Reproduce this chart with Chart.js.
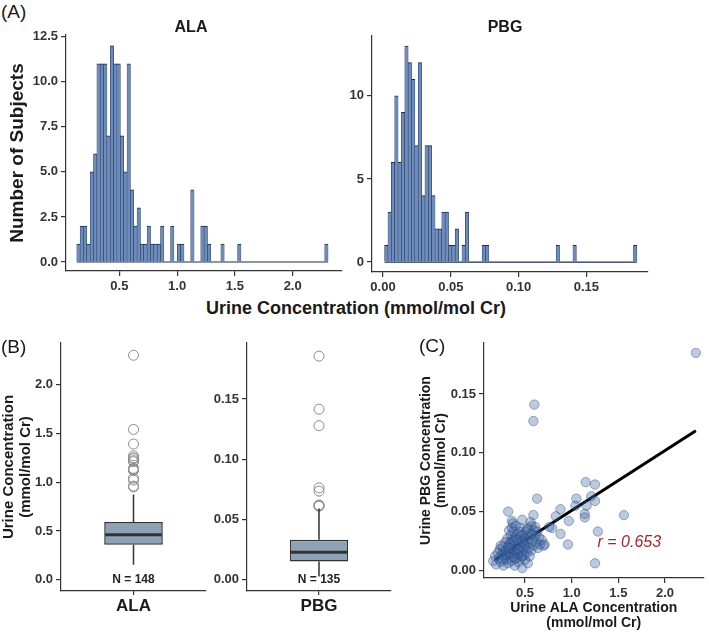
<!DOCTYPE html>
<html>
<head>
<meta charset="utf-8">
<script src="https://cdn.jsdelivr.net/npm/chart.js@4.4.1/dist/chart.umd.min.js"></script>
<style>
body { margin: 0; background: #fff; }
#fig { position: relative; width: 709px; height: 632px; overflow: hidden; font-family: "Liberation Sans", Arial, Helvetica, sans-serif; color: #1a1a1a; }
#fig canvas { position: absolute; }
.lbl { position: absolute; white-space: nowrap; line-height: 1; }
.tag { font-size: 19px; }
.ttl { font-size: 16px; font-weight: bold; transform: translateX(-50%); }
</style>
</head>
<body>
<div id="fig">
  <canvas id="alaHist" width="345" height="273" style="left:0;top:22px"></canvas>
  <canvas id="pbgHist" width="364" height="273" style="left:345px;top:22px"></canvas>
  <canvas id="alaBox" width="212" height="295" style="left:0;top:330px"></canvas>
  <canvas id="pbgBox" width="185" height="295" style="left:212px;top:330px"></canvas>
  <canvas id="scatter" width="312" height="302" style="left:397px;top:330px"></canvas>

  <div class="lbl tag" style="left:1px;top:2px">(A)</div>
  <div class="lbl ttl" style="left:191px;top:19px">ALA</div>
  <div class="lbl ttl" style="left:505px;top:19px">PBG</div>
  <div class="lbl ttl" style="left:356px;top:299px;font-size:18px">Urine Concentration (mmol/mol Cr)</div>
  <div class="lbl tag" style="left:1px;top:337px">(B)</div>
  <div class="lbl tag" style="left:419px;top:336px">(C)</div>
</div>
<script>
// ---- (A) histograms: counts per bin ----
var alaBinStart = 0.1314;
var alaBinWidth = 0.029;
var alaCounts = [1,2,2,1,5,6,11,11,11,7,12,11,11,7,5,11,4,2,3,1,1,2,1,1,1,2,0,0,2,0,
                 1,1,0,0,4,0,0,2,2,1,0,0,0,1,0,0,0,0,1,0,0,0,0,0,0,0,0,0,0,0,
                 0,0,0,0,0,0,0,0,0,0,0,0,0,0,1];
var pbgBinStart = 0.0012;
var pbgBinWidth = 0.00248;
var pbgCounts = [1,3,6,10,6,9,13,12,11,7,12,4,7,7,4,2,2,3,3,1,1,2,0,1,3,0,0,0,0,1,
                 1,0,0,0,0,0,0,0,0,0,0,0,0,0,0,0,0,0,0,0,0,1,0,0,0,0,1,0,0,0,
                 0,0,0,0,0,0,0,0,0,0,0,0,0,0,1];

var alaHistXTicks = [0.5, 1.0, 1.5, 2.0];
var alaHistXLabels = ['0.5', '1.0', '1.5', '2.0'];
var alaHistYTicks = [0, 2.5, 5, 7.5, 10, 12.5];
var alaHistYLabels = ['0.0', '2.5', '5.0', '7.5', '10.0', '12.5'];
var pbgHistXTicks = [0, 0.05, 0.10, 0.15];
var pbgHistXLabels = ['0.00', '0.05', '0.10', '0.15'];
var pbgHistYTicks = [0, 5, 10];
var pbgHistYLabels = ['0', '5', '10'];

// ---- (B) box plots ----
var boxNames = ['ALA', 'PBG'];
var boxN = [148, 135];
var alaBox = { lo: 0.154, q1: 0.358, med: 0.461, q3: 0.592, hi: 0.872 };
var pbgBox = { lo: 0.0027, q1: 0.0151, med: 0.0228, q3: 0.0332, hi: 0.059 };
var alaOutliers = [0.95, 0.96, 1.02, 1.04, 1.12, 1.13, 1.13, 1.14, 1.21, 1.22, 1.24, 1.25, 1.27, 1.39, 1.54, 2.30];
var pbgOutliers = [0.061, 0.0615, 0.062, 0.0735, 0.0762, 0.1278, 0.1415, 0.1855];
var alaBoxTicks = [0, 0.5, 1.0, 1.5, 2.0];
var alaBoxLabels = ['0.0', '0.5', '1.0', '1.5', '2.0'];
var pbgBoxTicks = [0, 0.05, 0.10, 0.15];
var pbgBoxLabels = ['0.00', '0.05', '0.10', '0.15'];

// ---- (C) scatter ----
var scatterAla = [2.33,0.60,0.59,1.15,1.25,1.21,0.63,1.05,1.25,1.16,1.04,0.88,0.32,1.56,0.59,1.14,1.14,0.83,0.97,0.36,
  0.47,1.28,0.79,0.76,0.88,0.71,0.96,1.25,
  0.16,0.18,0.19,0.21,0.22,0.23,0.24,0.25,0.26,0.27,0.27,0.28,0.29,0.30,0.30,0.31,0.31,0.32,0.32,0.33,
  0.33,0.34,0.34,0.35,0.35,0.36,0.36,0.36,0.37,0.37,0.38,0.38,0.39,0.39,0.40,0.40,0.41,0.41,0.42,0.42,
  0.43,0.43,0.44,0.44,0.45,0.45,0.46,0.46,0.47,0.47,0.48,0.48,0.49,0.49,0.50,0.50,0.51,0.51,0.52,0.52,
  0.53,0.53,0.54,0.54,0.55,0.55,0.56,0.57,0.57,0.58,0.59,0.60,0.61,0.62,0.63,0.64,0.65,0.66,0.68,0.70,
  0.37,0.40,0.35,0.44,0.38,0.42,0.46,0.39,0.33,0.29,0.26,0.24,0.43,0.48,0.52,0.58,0.61,0.56,0.47,0.41];
var scatterPbg = [0.185,0.141,0.127,0.075,0.073,0.063,0.061,0.061,0.059,0.055,0.055,0.052,0.050,0.047,0.047,0.048,0.045,0.046,0.042,0.042,
  0.043,0.033,0.036,0.037,0.031,0.022,0.022,0.006,
  0.008,0.012,0.005,0.015,0.010,0.018,0.007,0.013,0.020,0.004,0.016,0.011,0.024,0.009,0.017,0.013,0.027,0.006,0.020,0.015,
  0.034,0.011,0.024,0.018,0.030,0.008,0.014,0.036,0.021,0.026,0.012,0.033,0.017,0.004,0.022,0.028,0.010,0.015,0.019,0.031,
  0.024,0.007,0.013,0.027,0.020,0.036,0.016,0.011,0.025,0.002,0.018,0.030,0.022,0.013,0.027,0.009,0.020,0.033,0.015,0.025,
  0.029,0.006,0.019,0.036,0.023,0.012,0.031,0.017,0.038,0.026,0.021,0.034,0.029,0.024,0.033,0.019,0.028,0.022,0.026,0.021,
  0.040,0.038,0.023,0.033,0.025,0.014,0.030,0.010,0.019,0.014,0.009,0.021,0.018,0.024,0.035,0.031,0.037,0.041,0.012,0.026];
var fitAla = [0.178, 2.33];
var fitPbg = [0.0091, 0.1188];
var corrText = 'r = 0.653';
var corrAt = { x: 1.277, y: 0.0238 };
var scatterXTicks = [0.5, 1.0, 1.5, 2.0];
var scatterXLabels = ['0.5', '1.0', '1.5', '2.0'];
var scatterYTicks = [0, 0.05, 0.10, 0.15];
var scatterYLabels = ['0.00', '0.05', '0.10', '0.15'];

Chart.defaults.font.family = '"Liberation Sans", Arial, Helvetica, sans-serif';
Chart.defaults.color = '#333';
Chart.defaults.animation = false;

var AXIS = '#333';
var TITLE = '#1a1a1a';

function fixedTicks(vals) {
  return function (scale) {
    scale.ticks = vals.map(function (v) { return { value: v }; });
  };
}

function linAxis(min, max, vals, labels, size, isX) {
  return {
    type: 'linear', min: min, max: max, offset: false,
    afterBuildTicks: fixedTicks(vals),
    afterFit: function (s) { if (isX) s.height = size; else s.width = size; },
    grid: { display: true, drawOnChartArea: false, drawTicks: true, tickLength: 5, color: AXIS, lineWidth: 1.2, offset: false },
    border: { display: true, color: AXIS, width: 1.2 },
    ticks: {
      padding: 3, color: AXIS, autoSkip: false, maxRotation: 0,
      font: { size: 13, weight: 'bold' },
      callback: function (v, i) { return labels[i]; }
    }
  };
}

function baseOptions(pad, scales) {
  return {
    responsive: false, devicePixelRatio: 1, animation: false,
    layout: { padding: pad },
    plugins: { legend: { display: false }, tooltip: { enabled: false } },
    scales: scales
  };
}

function histogram(id, counts, start, width, xr, yr, xt, xl, yt, yl, yWidth, xHeight, pad, yTitle) {
  var bars = counts.map(function (c, i) { return { x: start + (i + 0.5) * width, y: c }; });
  var base = [{ x: start, y: 0 }, { x: start + counts.length * width, y: 0 }];
  var y = linAxis(yr[0], yr[1], yt, yl, yWidth, false);
  if (yTitle) {
    y.title = { display: true, text: yTitle, color: TITLE, font: { size: 19, weight: 'bold', lineHeight: 1.2 }, padding: { top: 6, bottom: 0 } };
  }
  new Chart(document.getElementById(id), {
    type: 'bar',
    data: {
      datasets: [
        { type: 'bar', data: bars, backgroundColor: '#6d8cbb', borderColor: '#1c2c4c',
          borderWidth: { top: 1, left: 0.5, right: 0.5, bottom: 0 }, borderSkipped: 'start',
          barPercentage: 1, categoryPercentage: 1 },
        { type: 'line', data: base, borderColor: '#1c2c4c', borderWidth: 1.2, pointRadius: 0 }
      ]
    },
    options: baseOptions(pad, {
      x: linAxis(xr[0], xr[1], xt, xl, xHeight, true),
      y: y
    })
  });
}

histogram('alaHist', alaCounts, alaBinStart, alaBinWidth, [0.038, 2.427], [-0.5, 12.6],
  alaHistXTicks, alaHistXLabels, alaHistYTicks, alaHistYLabels, 66, 24,
  { top: 13, right: 3, left: 0, bottom: 0 }, 'Number of Subjects');
histogram('pbgHist', pbgCounts, pbgBinStart, pbgBinWidth, [-0.0081, 0.1954], [-0.6, 13.6],
  pbgHistXTicks, pbgHistXLabels, pbgHistYTicks, pbgHistYLabels, 27, 23,
  { top: 14, right: 61, left: 0, bottom: 0 }, null);

// whiskers, median and N label, placed with the chart's own scales
function boxDecor(stats, nText) {
  return {
    id: 'boxDecor',
    afterDatasetsDraw: function (chart) {
      var ctx = chart.ctx, ys = chart.scales.y;
      var bar = chart.getDatasetMeta(0).data[0];
      var cx = bar.x, half = bar.width / 2;
      ctx.save();
      ctx.strokeStyle = AXIS;
      ctx.lineWidth = 1.5;
      ctx.beginPath();
      ctx.moveTo(cx, ys.getPixelForValue(stats.q3)); ctx.lineTo(cx, ys.getPixelForValue(stats.hi));
      ctx.moveTo(cx, ys.getPixelForValue(stats.q1)); ctx.lineTo(cx, ys.getPixelForValue(stats.lo));
      ctx.stroke();
      ctx.lineWidth = 3;
      ctx.beginPath();
      ctx.moveTo(cx - half + 1, ys.getPixelForValue(stats.med));
      ctx.lineTo(cx + half - 1, ys.getPixelForValue(stats.med));
      ctx.stroke();
      ctx.fillStyle = '#222';
      ctx.font = 'bold 12px "Liberation Sans", Arial, sans-serif';
      ctx.textAlign = 'center';
      ctx.textBaseline = 'middle';
      ctx.fillText(nText, cx, ys.getPixelForValue(0));
      ctx.restore();
    }
  };
}

function boxChart(id, name, n, stats, outliers, yr, yt, yl, yWidth, pad, yTitle) {
  var y = linAxis(yr[0], yr[1], yt, yl, yWidth, false);
  if (yTitle) {
    y.title = { display: true, text: yTitle, color: TITLE, font: { size: 15, weight: 'bold', lineHeight: 1.15 }, padding: { top: 0, bottom: 0 } };
  }
  new Chart(document.getElementById(id), {
    type: 'bar',
    data: {
      labels: [name],
      datasets: [
        { type: 'bar', data: [[stats.q1, stats.q3]], backgroundColor: '#8fa1b4', borderColor: AXIS,
          borderWidth: 1.5, borderSkipped: false, barPercentage: 0.404, categoryPercentage: 1 },
        { type: 'line', showLine: false, data: outliers.map(function (v) { return { x: name, y: v }; }),
          pointRadius: 5, pointBackgroundColor: 'rgba(0,0,0,0)', pointBorderColor: '#8c8c8c', pointBorderWidth: 1 }
      ]
    },
    options: baseOptions(pad, {
      x: {
        type: 'category', offset: true,
        afterFit: function (s) { s.height = 34; },
        grid: { display: true, drawOnChartArea: false, drawTicks: true, tickLength: 4, color: AXIS, lineWidth: 1.2, offset: false },
        border: { display: true, color: AXIS, width: 1.2 },
        ticks: { padding: 1, color: TITLE, font: { size: 17, weight: 'bold' } }
      },
      y: y
    }),
    plugins: [boxDecor(stats, 'N = ' + n)]
  });
}

boxChart('alaBox', boxNames[0], boxN[0], alaBox, alaOutliers, [-0.1155, 2.4255], alaBoxTicks, alaBoxLabels, 61,
  { top: 13, right: 5, left: 0, bottom: 0 }, ['Urine Concentration', '(mmol/mol Cr)']);
boxChart('pbgBox', boxNames[1], boxN[1], pbgBox, pbgOutliers, [-0.00935, 0.1964], pbgBoxTicks, pbgBoxLabels, 35,
  { top: 13, right: 4, left: 0, bottom: 0 }, null);

// (C) scatter with fitted line and r label
var corrLabel = {
  id: 'corrLabel',
  afterDatasetsDraw: function (chart) {
    var ctx = chart.ctx;
    ctx.save();
    ctx.fillStyle = '#a3282b';
    ctx.font = 'italic 16px "Liberation Sans", Arial, sans-serif';
    ctx.textAlign = 'left';
    ctx.textBaseline = 'middle';
    ctx.fillText(corrText, chart.scales.x.getPixelForValue(corrAt.x), chart.scales.y.getPixelForValue(corrAt.y));
    ctx.restore();
  }
};

var sx = linAxis(0.061, 2.412, scatterXTicks, scatterXLabels, 54, true);
sx.title = { display: true, text: ['Urine ALA Concentration', '(mmol/mol Cr)'], color: TITLE,
  font: { size: 14, weight: 'bold', lineHeight: 1.1 }, padding: { top: 0, bottom: 1 } };
var sy = linAxis(-0.0065, 0.1934, scatterYTicks, scatterYLabels, 87, false);
sy.title = { display: true, text: ['Urine PBG Concentration', '(mmol/mol Cr)'], color: TITLE,
  font: { size: 14, weight: 'bold', lineHeight: 1.1 }, padding: { top: 21, bottom: 0 } };

new Chart(document.getElementById('scatter'), {
  type: 'scatter',
  data: {
    datasets: [
      { type: 'scatter', data: scatterAla.map(function (a, i) { return { x: a, y: scatterPbg[i] }; }),
        pointRadius: 4.7, backgroundColor: 'rgba(62,102,165,0.35)', borderColor: 'rgba(35,65,115,0.5)', borderWidth: 0.8 },
      { type: 'line', data: fitAla.map(function (a, i) { return { x: a, y: fitPbg[i] }; }),
        borderColor: '#000', borderWidth: 3, pointRadius: 0, showLine: true }
    ]
  },
  options: baseOptions({ top: 13, right: 4, left: 0, bottom: 0 }, { x: sx, y: sy }),
  plugins: [corrLabel]
});
</script>
</body>
</html>
